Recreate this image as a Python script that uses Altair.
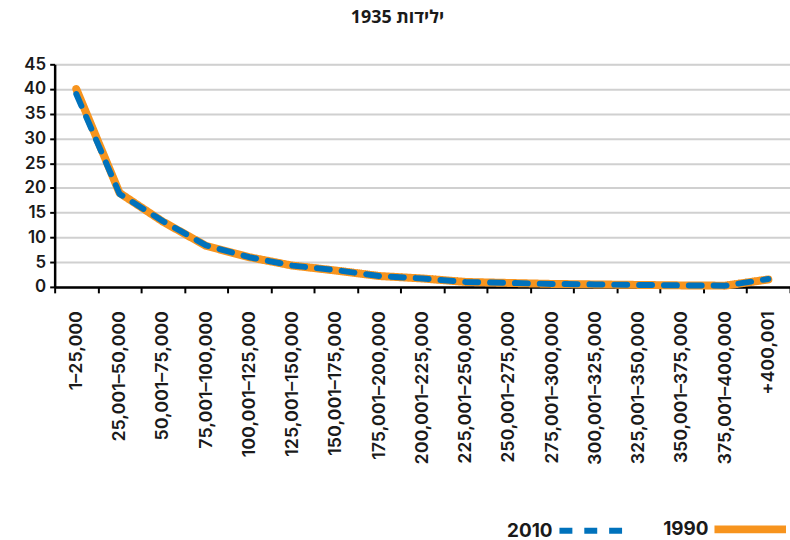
import altair as alt
import pandas as pd

# Income brackets (category axis)
brackets = [
    "1–25,000", "25,001–50,000", "50,001–75,000", "75,001–100,000",
    "100,001–125,000", "125,001–150,000", "150,001–175,000", "175,001–200,000",
    "200,001–225,000", "225,001–250,000", "250,001–275,000", "275,001–300,000",
    "300,001–325,000", "325,001–350,000", "350,001–375,000", "375,001–400,000",
    "+400,001",
]

# Share per bracket, by year
values_1990 = [40.0, 19.0, 13.2, 8.3, 6.0, 4.3, 3.3, 2.2, 1.7, 1.0, 0.8, 0.6, 0.5, 0.4, 0.3, 0.25, 1.5]
values_2010 = [39.0, 18.8, 13.3, 8.4, 6.0, 4.3, 3.4, 2.2, 1.7, 1.0, 0.8, 0.6, 0.5, 0.4, 0.3, 0.25, 1.6]

series_names = ["1990", "2010"]

rows = []
for name, vals in zip(series_names, [values_1990, values_2010]):
    for b, v in zip(brackets, vals):
        rows.append({"bracket": b, "value": v, "series": name})
df = pd.DataFrame(rows)

FONT = "Inter"
TITLE_FONT = "Open Sans"  # has Hebrew glyphs
legend_order = ["2010", "1990"]
SYM_W = 72   # legend line length
GAP = 10     # space between a legend label and its line

chart = (
    alt.Chart(df)
    .mark_line(strokeCap="round", strokeJoin="round")
    .encode(
        x=alt.X(
            "bracket:N",
            sort=brackets,
            scale=alt.Scale(paddingInner=0, paddingOuter=0),
            axis=alt.Axis(
                title=None,
                labelAngle=-90,
                labelFontSize=18,
                labelFontWeight=600,
                labelColor="#1a1a1a",
                labelPadding=18,
                tickBand="extent",
                tickSize=6,
                tickWidth=2,
                tickColor="#000000",
                domainColor="#000000",
                domainWidth=2.5,
                grid=False,
                labelFont=FONT,
            ),
        ),
        y=alt.Y(
            "value:Q",
            scale=alt.Scale(domain=[0, 45], nice=False),
            axis=alt.Axis(
                title=None,
                values=[0, 5, 10, 15, 20, 25, 30, 35, 40, 45],
                labelFontSize=17,
                labelFontWeight=600,
                labelColor="#1a1a1a",
                labelFont=FONT,
                labelPadding=4,
                tickSize=5,
                tickWidth=2,
                tickColor="#000000",
                domainColor="#000000",
                domainWidth=2.5,
                gridColor="#d0d0d0",
                gridWidth=2,
            ),
        ),
        color=alt.Color(
            "series:N",
            scale=alt.Scale(domain=legend_order, range=["#0072BC", "#F7941E"]),
            legend=alt.Legend(
                title=None,
                orient="none",
                direction="horizontal",
                legendX=505,
                legendY=428,
                symbolType="stroke",
                symbolSize=SYM_W * SYM_W,
                labelAlign="right",
                labelOffset=alt.ExprRef(expr=f"-{SYM_W + GAP}"),
                labelFontSize=19,
                labelFontWeight="bold",
                labelFont=FONT,
                labelColor="#1a1a1a",
                columnPadding=20,
            ),
        ),
        strokeDash=alt.StrokeDash(
            "series:N",
            scale=alt.Scale(domain=legend_order, range=[[13, 12], [1, 0]]),
            legend=alt.Legend(title=None),
        ),
        strokeWidth=alt.StrokeWidth(
            "series:N",
            scale=alt.Scale(domain=legend_order, range=[6, 8]),
            legend=alt.Legend(title=None),
        ),
    )
    .properties(
        width=740,
        height=224,
        title=alt.TitleParams(
            "1935 ילידות",
            font=TITLE_FONT,
            fontSize=18,
            fontWeight="bold",
            color="#1a1a1a",
            anchor="middle",
            offset=29,
            dx=-25,
        ),
        autosize=alt.AutoSizeParams(type="none"),
        padding={"left": 55, "top": 63, "right": 0, "bottom": 253},
    )
    .configure_view(stroke=None)
    .configure(font=FONT)
)

chart.save("out.html", embed_options={"renderer": "svg", "actions": False})
